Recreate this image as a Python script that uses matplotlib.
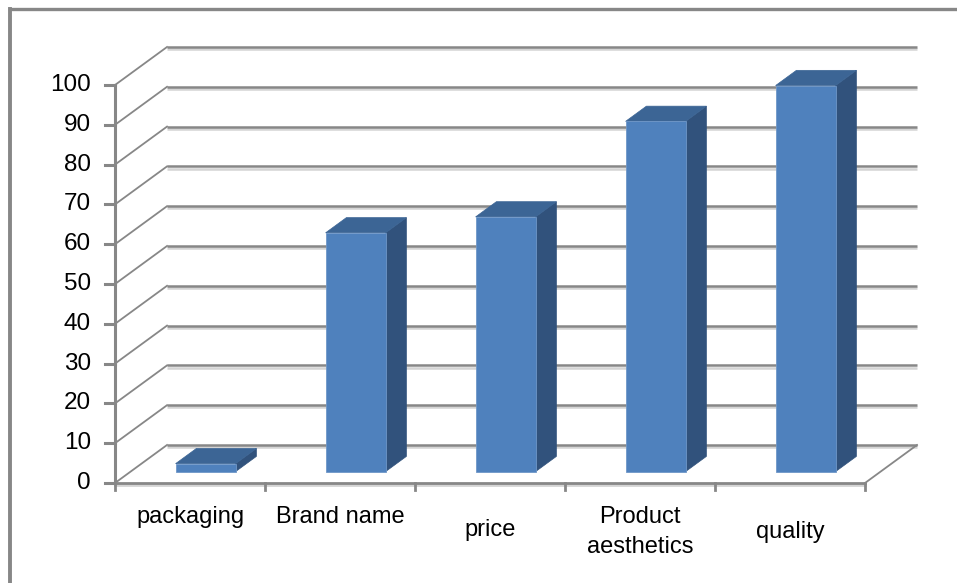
import matplotlib
matplotlib.use("Agg")
import matplotlib.pyplot as plt
from matplotlib.patches import Polygon
from matplotlib.lines import Line2D
import matplotlib.patheffects as pe

# ---- data ----
categories = ["packaging", "Brand name", "price", "Product\naesthetics", "quality"]
values = [2, 60, 64, 88, 97]
y_ticks = [0, 10, 20, 30, 40, 50, 60, 70, 80, 90, 100]

# ---- layout ----
W, H, DPI = 957, 583, 100
X0, Y0 = 115, 483           # pixel position of front-left floor corner
CAT_PX = 150                # pixels per category
V_PX = 3.98                 # pixels per value unit
DX = 52 / CAT_PX            # depth offset (category units)
DV = 38 / V_PX              # depth offset (value units)
BAR_W = 0.4
D0, D1 = 0.3, 0.7           # bar depth span (fraction)
label_dy = [0, 0, 13, 15, 15]  # extra downward offset of labels in pixels

front_c = "#4F81BD"
top_c = "#3C6595"
side_c = "#31527C"
grid_c = "#878787"

fig = plt.figure(figsize=(W / DPI, H / DPI), dpi=DPI)
ax = fig.add_axes([0, 0, 1, 1])
ax.set_xlim(-X0 / CAT_PX, (W - X0) / CAT_PX)
ax.set_ylim(-(H - Y0) / V_PX, Y0 / V_PX)
ax.axis("off")

n = len(categories)
shadow = [pe.SimpleLineShadow(offset=(0, -1.6), shadow_color="#d4d4d4", alpha=1), pe.Normal()]

# back wall gridlines + left wall diagonals
for v in y_ticks:
    ax.plot([DX, n + DX], [v + DV, v + DV], color=grid_c, lw=1.8,
            solid_capstyle="butt", path_effects=shadow, zorder=1)
    ax.plot([0, DX], [v, v + DV], color=grid_c, lw=1.3, zorder=1)

# floor right edge
ax.plot([n, n + DX], [0, DV], color=grid_c, lw=1.3, zorder=1)

# bars
for i, v in enumerate(values):
    c = i + 0.5
    xl, xr = c - BAR_W / 2, c + BAR_W / 2
    fx0, fv0 = D0 * DX, D0 * DV
    fx1, fv1 = D1 * DX, D1 * DV
    front = [(xl + fx0, fv0), (xr + fx0, fv0), (xr + fx0, v + fv0), (xl + fx0, v + fv0)]
    top = [(xl + fx0, v + fv0), (xr + fx0, v + fv0), (xr + fx1, v + fv1), (xl + fx1, v + fv1)]
    side = [(xr + fx0, fv0), (xr + fx1, fv1), (xr + fx1, v + fv1), (xr + fx0, v + fv0)]
    ax.add_patch(Polygon(side, closed=True, facecolor=side_c, edgecolor=side_c, lw=0.5, zorder=3))
    ax.add_patch(Polygon(top, closed=True, facecolor=top_c, edgecolor=top_c, lw=0.5, zorder=3))
    ax.add_patch(Polygon(front, closed=True, facecolor=front_c, edgecolor="#6f97c8", lw=0.6, zorder=4))

# front floor edge and category ticks
ax.plot([0, n], [0, 0], color=grid_c, lw=2.0, path_effects=shadow, zorder=5)
for k in range(n + 1):
    ax.plot([k, k], [0, -7 / V_PX], color=grid_c, lw=2.0, zorder=5)

# value axis
ax.plot([0, 0], [0, y_ticks[-1]], color=grid_c, lw=2.2, zorder=5)
for v in y_ticks:
    ax.plot([-10 / CAT_PX, 0], [v, v], color=grid_c, lw=2.2, zorder=5)
    ax.text(-24 / CAT_PX, v, str(v), ha="right", va="center",
            fontsize=17.5, family="Liberation Sans", color="black")

# category labels
for i, lab in enumerate(categories):
    ax.text(i + 0.5, -(34 + label_dy[i]) / V_PX, lab, ha="center", va="center",
            fontsize=17, family="Liberation Sans", color="black", linespacing=1.45)

# outer frame
fig.add_artist(Line2D([10 / W, 1], [1 - 9 / H, 1 - 9 / H], transform=fig.transFigure,
                      color="#878787", lw=2.4))
fig.add_artist(Line2D([10 / W, 10 / W], [0, 1 - 9 / H], transform=fig.transFigure,
                      color="#878787", lw=2.8))

fig.savefig("out.png", dpi=DPI)
